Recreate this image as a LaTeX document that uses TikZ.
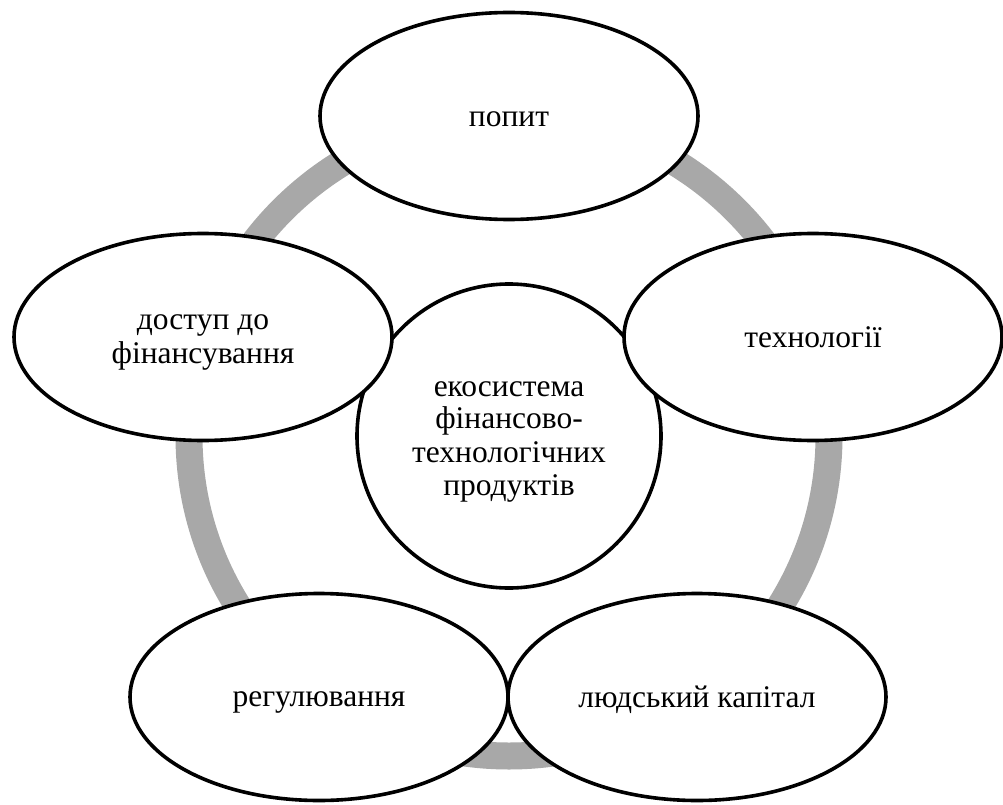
\documentclass[tikz,border=0pt]{standalone}
\usepackage{fontspec}
\setmainfont{Liberation Serif}
\usetikzlibrary{shapes.geometric}
\definecolor{ringgray}{RGB}{168,168,168}
% line strut: spans from 6.2pt below to 26.4pt above the baseline
\newcommand{\lnstrut}{\rule[-6.2pt]{0pt}{32.6pt}}
\tikzset{
  ring/.style={draw=ringgray, line width=27pt},
  outline/.style={draw=black, fill=white, line width=3.6pt, inner sep=0pt,
    align=center, font=\fontsize{31.5}{32.6}\selectfont},
  bubble/.style={outline, ellipse, minimum width=378pt, minimum height=207pt},
  hub/.style={outline, circle, minimum size=304pt}
}
\begin{document}
\begin{tikzpicture}[x=1pt, y=-1pt]
  \useasboundingbox (0,0) rectangle (1003,805);
  % grey cycle ring behind the bubbles
  \coordinate (c) at (509,436);
  \draw[ring] (c) circle[radius=320pt];
  % central hub
  \node[hub] (hub) at (c) {\lnstrut екосистема\\\lnstrut фінансово-\\\lnstrut технологічних\\\lnstrut продуктів};
  % outer bubbles
  \node[bubble] (demand) at (509,116) {\lnstrut попит};
  \node[bubble] (tech)   at (813,337) {\lnstrut технології};
  \node[bubble] (human)  at (697,697) {\lnstrut людський капітал};
  \node[bubble] (reg)    at (319,697) {\lnstrut регулювання};
  \node[bubble] (fin)    at (203,337) {\lnstrut доступ до\\\lnstrut фінансування};
\end{tikzpicture}
\end{document}
